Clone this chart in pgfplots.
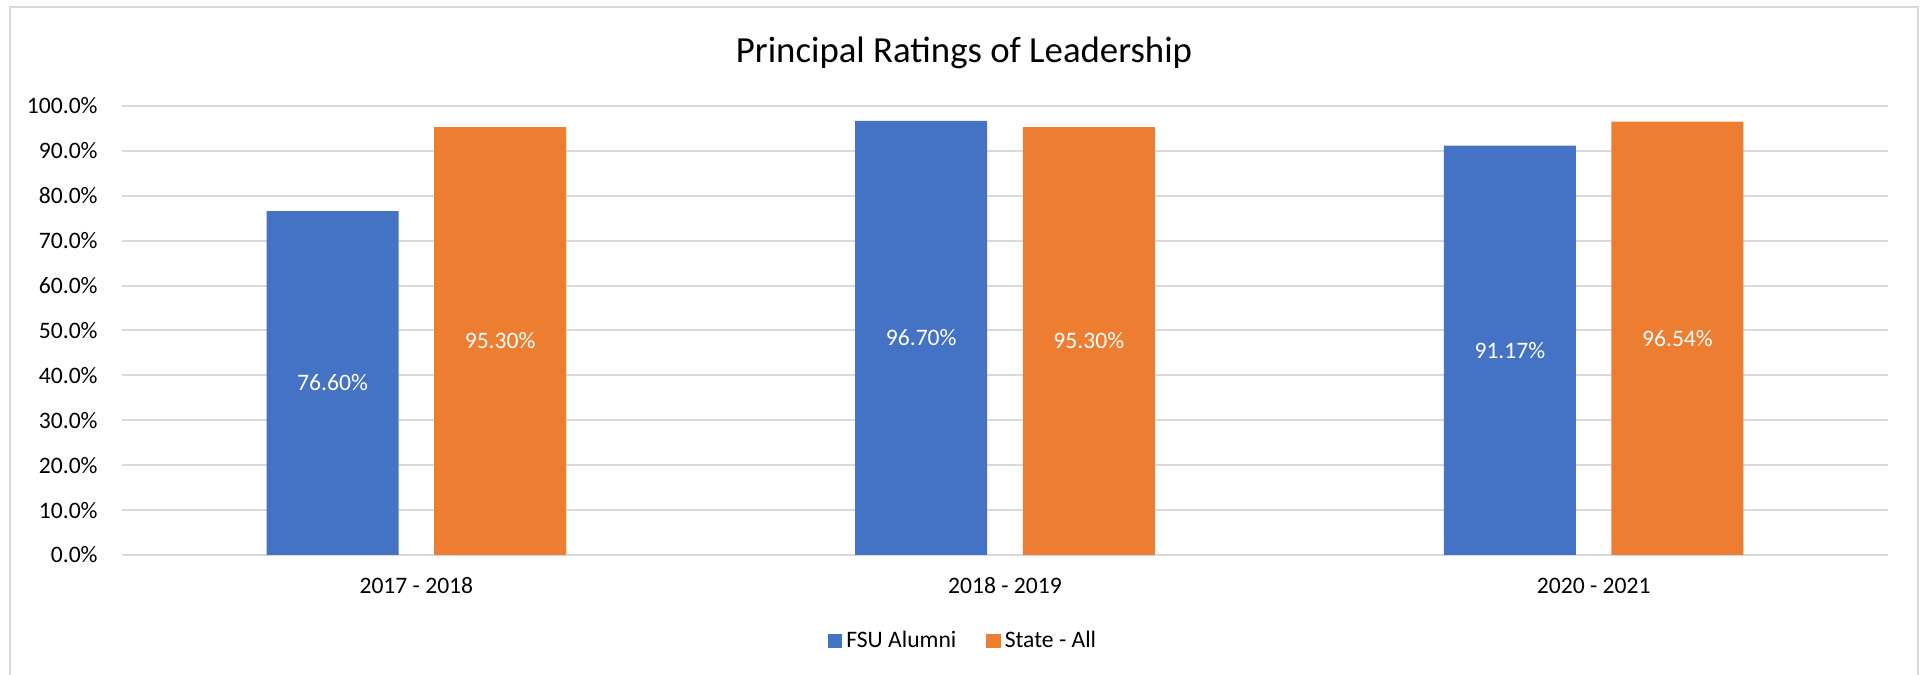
\documentclass[border=0pt]{standalone}
\usepackage{pgfplots}
\pgfplotsset{compat=1.18}
\usepackage{fontspec}
\setmainfont{Carlito}
\definecolor{fsublue}{HTML}{4472C4}
\definecolor{stateorange}{HTML}{ED7D31}
\definecolor{gridgray}{HTML}{D9D9D9}
\begin{document}
\begin{tikzpicture}
\useasboundingbox (0,0) rectangle (962.5pt,337pt);
\draw[gridgray, line width=0.8pt] (5pt,-5pt) -- (5pt,333.5pt) -- (959pt,333.5pt) -- (959pt,-5pt);
\begin{axis}[
  at={(61pt,59.5pt)}, anchor=south west,
  scale only axis, width=883pt, height=224.5pt,
  xmin=-0.5, xmax=2.5, ymin=0, ymax=100,
  ybar, bar width=66pt,
  xtick={0,1,2}, xticklabels={2017 - 2018, 2018 - 2019, 2020 - 2021},
  ytick={0,10,20,30,40,50,60,70,80,90,100},
  yticklabels={0.0\%,10.0\%,20.0\%,30.0\%,40.0\%,50.0\%,60.0\%,70.0\%,80.0\%,90.0\%,100.0\%},
  major tick length=0pt,
  axis line style={draw=none},
  ymajorgrids, grid style={gridgray, line width=1pt},
  tick label style={font=\fontsize{11.8pt}{14pt}\selectfont, text=black},
  yticklabel style={anchor=east, inner sep=0pt, xshift=-12pt},
  xticklabel style={anchor=base, inner sep=0pt, yshift=-19.5pt},
  /pgf/number format/assume math mode=true,
  point meta=y,
  visualization depends on=rawy \as \rawy,
  nodes near coords={\pgfmathprintnumber[fixed,fixed zerofill,precision=2]{\pgfplotspointmeta}\%},
  every node near coord/.append style={anchor=center, text=white, inner sep=0pt,
     font=\fontsize{11.8pt}{14pt}\selectfont, shift={(axis direction cs:0,-\rawy/2)}},
  legend columns=2,
  legend style={at={(axis description cs:0.4768,-0.1915)}, anchor=center, draw=none, fill=none,
     font=\fontsize{11.8pt}{14pt}\selectfont, inner sep=0pt,
     nodes={inner ysep=0pt, inner xsep=2pt},
     /tikz/every even column/.append style={column sep=13pt}},
  legend image code/.code={\path[#1, draw=none] (0pt,-3.6pt) rectangle (7.2pt,3.6pt);},
]
\addplot[fill=fsublue, draw=none, bar shift=-41.9pt] coordinates {(0,76.60) (1,96.70) (2,91.17)};
\addlegendentry{FSU Alumni}
\addplot[fill=stateorange, draw=none, bar shift=41.9pt] coordinates {(0,95.30) (1,95.30) (2,96.54)};
\addlegendentry{State - All}
\end{axis}
\node[font=\fontsize{18.4pt}{22pt}\selectfont, text=black] at (482pt,310.5pt) {Principal Ratings of Leadership};
\end{tikzpicture}
\end{document}
